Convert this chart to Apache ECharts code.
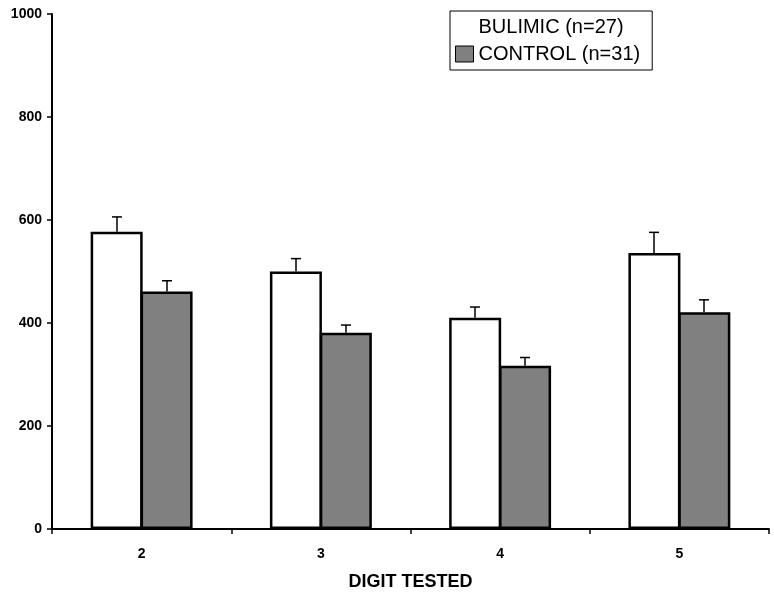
<!DOCTYPE html>
<html>
<head>
<meta charset="utf-8">
<script src="https://cdn.jsdelivr.net/npm/echarts@6/dist/echarts.min.js"></script>
<style>html,body{margin:0;padding:0;background:#fff}#c{width:774px;height:597px}</style>
</head>
<body>
<div id="c"></div>
<script>
var categories = ['2', '3', '4', '5'];
var yTicks = [0, 200, 400, 600, 800, 1000];
var bulimicName = 'BULIMIC (n=27)';
var controlName = 'CONTROL (n=31)';
var bulimicValues = [577, 500, 410, 536];
var bulimicErr = [29, 25, 21, 40];
var controlValues = [461, 381, 317, 421];
var controlErr = [21, 15, 16, 24];
var xAxisTitle = 'DIGIT TESTED';

var FONT = '"Liberation Sans", Arial, sans-serif';
var BAR_W = 52;

function errSeries(vals, errs, offset) {
  return {
    type: 'custom',
    silent: true,
    z: 5,
    data: vals.map(function (v, i) { return [i, v, v + errs[i]]; }),
    renderItem: function (params, api) {
      var base = api.coord([api.value(0), api.value(1)]);
      var top = api.coord([api.value(0), api.value(2)]);
      var x = Math.round(base[0] + offset);
      var style = { stroke: '#000', lineWidth: 1.5 };
      return {
        type: 'group',
        children: [
          { type: 'line', shape: { x1: x, y1: base[1], x2: x, y2: top[1] }, style: style },
          { type: 'line', shape: { x1: x - 5, y1: top[1], x2: x + 5, y2: top[1] }, style: style }
        ]
      };
    }
  };
}

var chart = echarts.init(document.getElementById('c'), null, { renderer: 'canvas' });
chart.setOption({
  animation: false,
  backgroundColor: '#fff',
  textStyle: { fontFamily: FONT },
  grid: { left: 52, right: 5, top: 14, bottom: 68, containLabel: false },
  legend: {
    orient: 'vertical',
    left: 450,
    top: 11,
    padding: [5, 12, 5, 5],
    itemGap: 5,
    itemWidth: 18,
    itemHeight: 16,
    borderColor: '#000',
    borderWidth: 1,
    borderRadius: 0,
    backgroundColor: '#fff',
    textStyle: { fontFamily: FONT, fontSize: 20, color: '#000', lineHeight: 22 },
    data: [
      { name: bulimicName, icon: 'rect', itemStyle: { color: '#fff', borderWidth: 0, borderColor: '#fff' } },
      { name: controlName, icon: 'rect', itemStyle: { color: '#808080', borderWidth: 1, borderColor: '#000' } }
    ]
  },
  xAxis: {
    type: 'category',
    data: categories,
    name: xAxisTitle,
    nameLocation: 'middle',
    nameGap: 44,
    nameTextStyle: { fontFamily: FONT, fontSize: 18, fontWeight: 'bold', color: '#000' },
    axisLine: { lineStyle: { color: '#000', width: 2 } },
    axisTick: { show: true, alignWithLabel: false, length: 5, lineStyle: { color: '#000', width: 1.5 } },
    axisLabel: { fontFamily: FONT, fontSize: 14, fontWeight: 'bold', color: '#000', margin: 18 },
    splitLine: { show: false }
  },
  yAxis: {
    type: 'value',
    min: yTicks[0],
    max: yTicks[yTicks.length - 1],
    interval: 200,
    axisLine: { show: true, lineStyle: { color: '#000', width: 2 } },
    axisTick: { show: true, length: 5, lineStyle: { color: '#000', width: 1.5 } },
    axisLabel: { fontFamily: FONT, fontSize: 14, fontWeight: 'bold', color: '#000', margin: 10,
      formatter: function (v) { return String(v); } },
    splitLine: { show: false }
  },
  series: [
    {
      name: bulimicName,
      type: 'bar',
      data: bulimicValues,
      barWidth: BAR_W,
      barGap: '-4%',
      itemStyle: { color: '#fff', borderColor: '#000', borderWidth: 2.5 }
    },
    {
      name: controlName,
      type: 'bar',
      data: controlValues,
      barWidth: BAR_W,
      barGap: '-4%',
      itemStyle: { color: '#808080', borderColor: '#000', borderWidth: 2.5 }
    },
    errSeries(bulimicValues, bulimicErr, -BAR_W / 2 + 1),
    errSeries(controlValues, controlErr, BAR_W / 2 - 1)
  ]
});
</script>
</body>
</html>
